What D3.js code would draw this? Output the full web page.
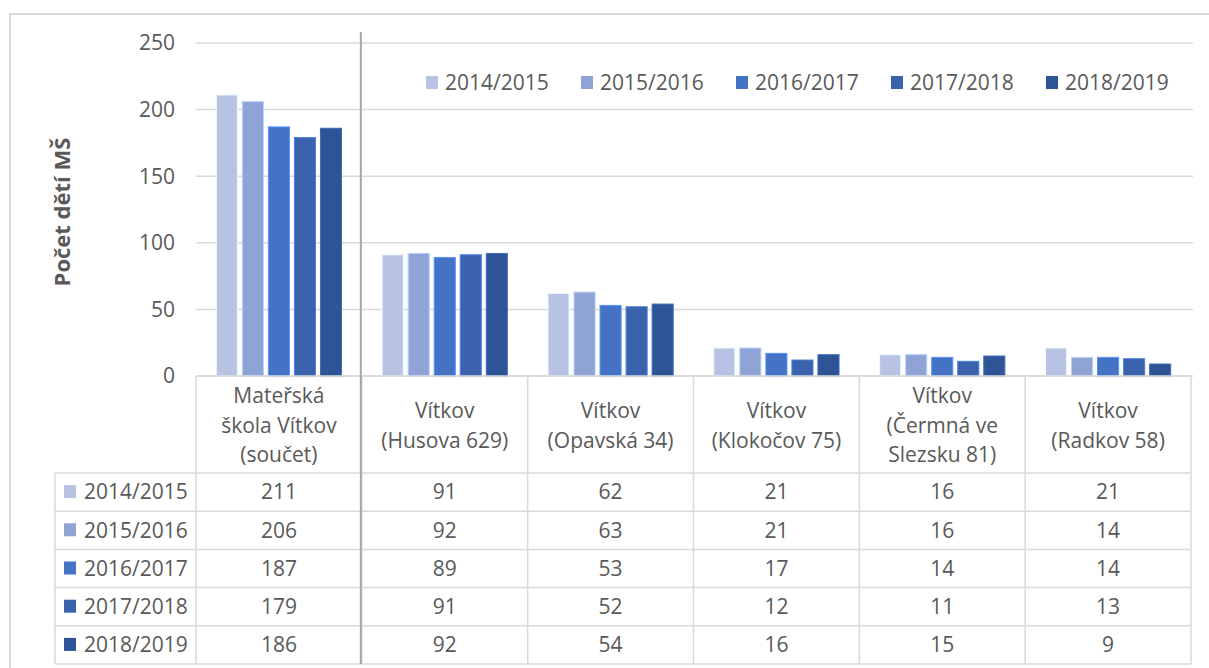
<!DOCTYPE html>
<html>
<head>
<meta charset="utf-8">
<script src="https://cdn.jsdelivr.net/npm/d3@7"></script>
<style>
  body { margin: 0; background: #fff; }
  svg text { font-family: "Open Sans", "Noto Sans", sans-serif; fill: #595959; }
</style>
</head>
<body>
<div id="chart"></div>
<script>
// categories (header lines as shown in the data table)
const categories = [
    ['Mateřská', 'škola Vítkov', '(součet)'],
    ['Vítkov', '(Husova 629)'],
    ['Vítkov', '(Opavská 34)'],
    ['Vítkov', '(Klokočov 75)'],
    ['Vítkov', '(Čermná ve', 'Slezsku 81)'],
    ['Vítkov', '(Radkov 58)']
];
const seriesNames = ['2014/2015', '2015/2016', '2016/2017', '2017/2018', '2018/2019'];
const s2014 = [211, 91, 62, 21, 16, 21];
const s2015 = [206, 92, 63, 21, 16, 14];
const s2016 = [187, 89, 53, 17, 14, 14];
const s2017 = [179, 91, 52, 12, 11, 13];
const s2018 = [186, 92, 54, 16, 15, 9];
const yTicks = [0, 50, 100, 150, 200, 250];
const colors = ['#b8c3e3', '#8fa3d4', '#4472c4', '#3b63ad', '#2f5496'];

const seriesValues = [s2014, s2015, s2016, s2017, s2018];

const width = 1209, height = 668;
const plotLeft = 196, plotRight = 1191;
const plotTop = 43, plotBottom = 376;
const headerBottom = 473, rowH = 38.2;
const tableLeft = 55;
const grid = '#d9d9d9';
const fs = 21;

const svg = d3.select('#chart').append('svg')
    .attr('width', width)
    .attr('height', height);

// outer frame
svg.append('rect')
    .attr('x', 10).attr('y', 14)
    .attr('width', width + 10).attr('height', height + 10)
    .attr('fill', 'none').attr('stroke', grid).attr('stroke-width', 2);

const x = d3.scaleBand()
    .domain(d3.range(categories.length))
    .range([plotLeft, plotRight]);

const xInner = d3.scaleBand()
    .domain(d3.range(seriesNames.length))
    .range([0, x.bandwidth()])
    .paddingInner(0.19)
    .paddingOuter(0.78);

const y = d3.scaleLinear()
    .domain([0, 250])
    .range([plotBottom, plotTop]);

// gridlines
svg.append('g')
    .selectAll('line')
    .data(yTicks)
    .join('line')
    .attr('x1', plotLeft).attr('x2', plotRight + 2)
    .attr('y1', d => y(d)).attr('y2', d => y(d))
    .attr('stroke', grid).attr('stroke-width', 1.5);

// y tick labels
svg.append('g')
    .selectAll('text')
    .data(yTicks)
    .join('text')
    .attr('x', 175)
    .attr('y', d => y(d))
    .attr('dy', '0.35em')
    .attr('text-anchor', 'end')
    .attr('font-size', fs)
    .text(d => d);

// axis title
svg.append('text')
    .attr('transform', 'translate(70,212) rotate(-90)')
    .attr('text-anchor', 'middle')
    .attr('font-size', 22)
    .attr('font-weight', 'bold')
    .text('Počet dětí MŠ');

// bars
const groups = svg.append('g')
    .selectAll('g')
    .data(categories.map((c, i) => i))
    .join('g')
    .attr('transform', i => `translate(${x(i)},0)`);

groups.selectAll('rect')
    .data(i => seriesValues.map((s, j) => ({ j, v: s[i] })))
    .join('rect')
    .attr('x', d => xInner(d.j))
    .attr('width', xInner.bandwidth())
    .attr('y', d => y(d.v))
    .attr('height', d => y(0) - y(d.v))
    .attr('fill', d => colors[d.j])
    .attr('stroke', d => d3.color(colors[d.j]).brighter(0.7))
    .attr('stroke-width', 1);

// legend
const legend = svg.append('g')
    .selectAll('g')
    .data(seriesNames)
    .join('g')
    .attr('transform', (d, i) => `translate(${426 + i * 155},83)`);
legend.append('rect')
    .attr('x', 0).attr('y', -7)
    .attr('width', 12).attr('height', 13)
    .attr('fill', (d, i) => colors[i]);
legend.append('text')
    .attr('x', 19)
    .attr('dy', '0.35em')
    .attr('font-size', fs)
    .text(d => d);

// data table
const table = svg.append('g');
const rowY = i => headerBottom + i * rowH;

// horizontal lines
table.append('line')
    .attr('x1', plotLeft).attr('x2', plotRight)
    .attr('y1', plotBottom).attr('y2', plotBottom)
    .attr('stroke', grid).attr('stroke-width', 1.5);
table.selectAll('line.row')
    .data(d3.range(seriesNames.length + 1))
    .join('line')
    .attr('class', 'row')
    .attr('x1', tableLeft).attr('x2', plotRight)
    .attr('y1', d => rowY(d)).attr('y2', d => rowY(d))
    .attr('stroke', grid).attr('stroke-width', 1.5);

// vertical lines
table.selectAll('line.col')
    .data(d3.range(categories.length + 1))
    .join('line')
    .attr('class', 'col')
    .attr('x1', d => d < categories.length ? x(d) : plotRight)
    .attr('x2', d => d < categories.length ? x(d) : plotRight)
    .attr('y1', plotBottom).attr('y2', rowY(seriesNames.length))
    .attr('stroke', grid).attr('stroke-width', 1.5);
table.append('line')
    .attr('x1', tableLeft).attr('x2', tableLeft)
    .attr('y1', headerBottom).attr('y2', rowY(seriesNames.length))
    .attr('stroke', grid).attr('stroke-width', 1.5);

// category separator
svg.append('line')
    .attr('x1', x(1) - 1).attr('x2', x(1) - 1)
    .attr('y1', 32).attr('y2', rowY(seriesNames.length))
    .attr('stroke', '#a6a6a6').attr('stroke-width', 2);

// header labels
const lineH = 29.5;
table.selectAll('text.head')
    .data(categories)
    .join('text')
    .attr('class', 'head')
    .attr('text-anchor', 'middle')
    .attr('font-size', fs)
    .each(function(lines, i) {
        const t = d3.select(this);
        const cy = (plotBottom + headerBottom) / 2 + 1;
        const top = cy - (lines.length - 1) * lineH / 2;
        lines.forEach((l, k) => {
            t.append('tspan')
                .attr('x', x(i) + x.bandwidth() / 2)
                .attr('y', top + k * lineH)
                .attr('dy', '0.35em')
                .text(l);
        });
    });

// row labels with swatches
const rows = table.selectAll('g.rowlab')
    .data(seriesNames)
    .join('g')
    .attr('class', 'rowlab')
    .attr('transform', (d, i) => `translate(0,${rowY(i) + rowH / 2})`);
rows.append('rect')
    .attr('x', 64).attr('y', -7)
    .attr('width', 12).attr('height', 13)
    .attr('fill', (d, i) => colors[i]);
rows.append('text')
    .attr('x', 84)
    .attr('dy', '0.35em')
    .attr('font-size', fs)
    .text(d => d);

// values
rows.each(function(name, j) {
    d3.select(this).selectAll('text.val')
        .data(seriesValues[j])
        .join('text')
        .attr('class', 'val')
        .attr('x', (v, i) => x(i) + x.bandwidth() / 2)
        .attr('dy', '0.35em')
        .attr('text-anchor', 'middle')
        .attr('font-size', fs)
        .text(v => v);
});
</script>
</body>
</html>
